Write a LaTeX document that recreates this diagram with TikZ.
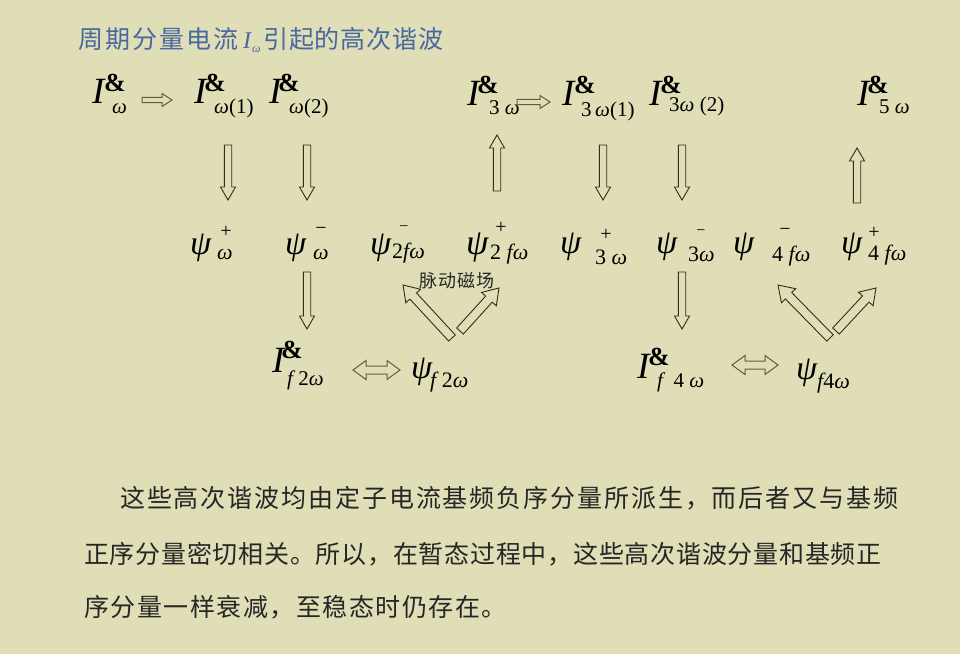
\documentclass[tikz,border=0pt]{standalone}
\usepackage{fontspec}
\setmainfont{Liberation Serif}
\newfontfamily\cjk{Noto Sans CJK SC}
\usetikzlibrary{calc}
\definecolor{bg}{RGB}{224,222,182}
\definecolor{titleblue}{RGB}{72,104,160}
\definecolor{arrline}{RGB}{50,46,28}
\definecolor{arrline2}{RGB}{100,92,62}
\makeatletter
\newcommand\pitched[2]{\@tfor\pc:=#2\do{\makebox[#1][l]{\pc}}}
\makeatother
\tikzset{
  txt/.style={inner sep=0pt, anchor=base west, text=black},
  bigI/.style={txt, font=\fontsize{37}{37}\selectfont\itshape},
  ampsty/.style={txt, font=\fontsize{26}{26}\selectfont\bfseries},
  substy/.style={txt, font=\fontsize{21}{21}\selectfont},
  msub/.style={txt, font=\fontsize{22}{22}\selectfont},
  psisty/.style={txt, font=\fontsize{34}{34}\selectfont\itshape},
  supsty/.style={inner sep=0pt, anchor=center, font=\fontsize{20}{20}\selectfont},
  blockarr/.style={draw=arrline, fill=bg, line width=0.9pt, line join=miter},
  blockarrb/.style={draw=arrline2, fill=bg, line width=1pt, line join=miter},
  cntext/.style={inner sep=0pt, anchor=base west, font=\fontsize{25}{25}\selectfont\cjk, text=black!85},
}
% single block arrow from #1 to #2: shaft half width #3, head half width #4, head length #5, style #6
\newcommand\blockarrow[6]{%
  \path let \p1=(#1), \p2=(#2) in \pgfextra{%
    \pgfmathsetmacro\baang{atan2(\y2-\y1,\x2-\x1)}%
    \pgfmathsetmacro\balen{veclen(\x2-\x1,\y2-\y1)}%
    \global\let\baang\baang \global\let\balen\balen};
  \begin{scope}[shift={(#1)},rotate=\baang]
    \draw[#6] (0,-#3) -- ({\balen-#5},-#3) -- ({\balen-#5},-#4) -- (\balen,0)
      -- ({\balen-#5},#4) -- ({\balen-#5},#3) -- (0,#3) -- cycle;
  \end{scope}}
% double block arrow between #1 and #2
\newcommand\dblarrow[6]{%
  \path let \p1=(#1), \p2=(#2) in \pgfextra{%
    \pgfmathsetmacro\baang{atan2(\y2-\y1,\x2-\x1)}%
    \pgfmathsetmacro\balen{veclen(\x2-\x1,\y2-\y1)}%
    \global\let\baang\baang \global\let\balen\balen};
  \begin{scope}[shift={(#1)},rotate=\baang]
    \draw[#6] (0,0) -- (#5,-#4) -- (#5,-#3) -- ({\balen-#5},-#3) -- ({\balen-#5},-#4)
      -- (\balen,0) -- ({\balen-#5},#4) -- ({\balen-#5},#3) -- (#5,#3) -- (#5,#4) -- cycle;
  \end{scope}}
% I with & mark: name, x, baseline, amp dx, amp dy, sub dx, sub dy, sub text
\newcommand\Iamp[8]{%
  \node[bigI] (#1) at (#2,#3) {I};
  \node[ampsty] (#1a) at (#2+#4,#3+#5) {\&};
  \node[substy] (#1s) at (#2+#6,#3+#7) {#8};}
% psi: name, x, baseline, sup cx, sup cy, sup, sub x, sub base, sub text
\newcommand\PsiNode[9]{%
  \node[psisty] (#1) at (#2,#3) {ψ};
  \node[supsty] (#1p) at (#4,#5) {#6};
  \node[msub] (#1s) at (#7,#8) {#9};}
\begin{document}
\begin{tikzpicture}[x=1pt,y=-1pt]
\fill[bg] (0,0) rectangle (960,654);
\useasboundingbox (0,0) rectangle (960,654);

% title
\node[cntext, text=titleblue] (t1) at (78,48) {\pitched{27pt}{周期分量电流}};
\node[txt, text=titleblue, font=\fontsize{24}{24}\selectfont\itshape] (t2) at (243,48) {I};
\node[txt, text=titleblue, font=\fontsize{12}{12}\selectfont\itshape] (t3) at (252,52) {ω};
\node[cntext, text=titleblue] (t4) at (263,48) {\pitched{25.8pt}{引起的高次谐波}};

% top row
\Iamp{i1}{92}{103}{12}{-12}{20}{10}{\itshape ω}
\Iamp{i2}{194}{103}{10}{-12}{20}{10}{{\itshape ω}(1)}
\Iamp{i3}{269}{103}{9}{-12}{20}{10}{{\itshape ω}(2)}
\Iamp{i4}{467}{105}{10}{-12}{22}{9}{3 {\itshape ω}}
\Iamp{i5}{562}{105}{12}{-12}{19}{11}{3\,{\itshape ω}(1)}
\Iamp{i6}{649}{105}{11}{-12}{20}{6}{3{\itshape ω} (2)}
\Iamp{i7}{857}{105}{10}{-12}{22}{8}{5 {\itshape ω}}

% middle row
\PsiNode{p1}{190}{254}{226}{232}{+}{217}{259}{\itshape ω}
\PsiNode{p2}{285}{254}{321}{231}{−}{313}{259}{\itshape ω}
\PsiNode{p3}{370}{254}{404}{229}{\fontsize{16}{16}\selectfont −}{392}{258}{2{\itshape fω}}
\node[psisty, font=\fontsize{36}{36}\selectfont\itshape] (p4) at (466,254) {ψ};
\node[supsty] (p4p) at (501,228) {+};
\node[msub] (p4s) at (490,259) {2 {\itshape fω}};
\PsiNode{p5}{560}{253}{606}{235}{+}{595}{264}{3 {\itshape ω}}
\PsiNode{p6}{656}{253}{701}{233}{\fontsize{16}{16}\selectfont −}{688}{261}{3{\itshape ω}}
\PsiNode{p7}{733}{253}{785}{232}{−}{772}{261}{4 {\itshape fω}}
\PsiNode{p8}{841}{253}{874}{233}{+}{868}{260}{4 {\itshape fω}}

\node[cntext, font=\fontsize{18}{18}\selectfont\cjk] (lbl) at (419,287) {\pitched{19pt}{脉动磁场}};

% bottom row
\Iamp{i8}{272}{372}{9}{-14}{15}{13}{{\itshape f} 2{\itshape ω}}
\node[psisty] (p9) at (411,378) {ψ};
\node[msub] (p9s) at (430,387) {{\itshape f} 2{\itshape ω}};
\Iamp{i9}{637}{378}{11}{-13}{20}{9}{{\itshape f} \ 4 {\itshape ω}}
\node[psisty] (p10) at (796,379) {ψ};
\node[msub] (p10s) at (817,388) {{\itshape f}4{\itshape ω}};

% arrow end points
\coordinate (h1a) at (142,100); \coordinate (h1b) at (172,100);
\coordinate (h2a) at (517,102); \coordinate (h2b) at (550,102);
\coordinate (v1a) at (228,145); \coordinate (v1b) at (228,200);
\coordinate (v2a) at (307,145); \coordinate (v2b) at (307,200);
\coordinate (v3a) at (497,191); \coordinate (v3b) at (497,135);
\coordinate (v4a) at (603,145); \coordinate (v4b) at (603,200);
\coordinate (v5a) at (682,145); \coordinate (v5b) at (682,200);
\coordinate (v6a) at (857,203); \coordinate (v6b) at (857,148);
\coordinate (v7a) at (307,272); \coordinate (v7b) at (307,329);
\coordinate (v8a) at (682,272); \coordinate (v8b) at (682,329);
\coordinate (d1a) at (452,338); \coordinate (d1b) at (403,285);
\coordinate (d2a) at (460,331); \coordinate (d2b) at (499,288);
\coordinate (d3a) at (830,338); \coordinate (d3b) at (778,285);
\coordinate (d4a) at (836,331); \coordinate (d4b) at (876,288);
\coordinate (e1a) at (353,370); \coordinate (e1b) at (400,370);
\coordinate (e2a) at (732,365); \coordinate (e2b) at (778,365);

\blockarrow{h1a}{h1b}{2.7}{6.5}{10}{blockarrb}
\blockarrow{h2a}{h2b}{2.7}{6.5}{10}{blockarrb}
\blockarrow{v1a}{v1b}{3.7}{7.5}{13}{blockarr}
\blockarrow{v2a}{v2b}{3.7}{7.5}{13}{blockarr}
\blockarrow{v3a}{v3b}{3.7}{7.5}{13}{blockarr}
\blockarrow{v4a}{v4b}{3.7}{7.5}{13}{blockarr}
\blockarrow{v5a}{v5b}{3.7}{7.5}{13}{blockarr}
\blockarrow{v6a}{v6b}{3.7}{7.5}{13}{blockarr}
\blockarrow{v7a}{v7b}{3.7}{7.5}{13}{blockarr}
\blockarrow{v8a}{v8b}{3.7}{7.5}{13}{blockarr}
\blockarrow{d1a}{d1b}{4.5}{10}{15}{blockarr}
\blockarrow{d2a}{d2b}{4.5}{10}{15}{blockarr}
\blockarrow{d3a}{d3b}{4.5}{10}{15}{blockarr}
\blockarrow{d4a}{d4b}{4.5}{10}{15}{blockarr}
\dblarrow{e1a}{e1b}{4}{9.5}{13}{blockarrb}
\dblarrow{e2a}{e2b}{4}{9.5}{13}{blockarrb}

% paragraph
\node[cntext] (l1) at (120,507) {\pitched{26.9pt}{这些高次谐波均由定子电流基频负序分量所派生，而后者又与基频}};
\node[cntext] (l2) at (84,563) {\pitched{25.75pt}{正序分量密切相关。所以，在暂态过程中，这些高次谐波分量和基频正}};
\node[cntext] (l3) at (84,616) {\pitched{26.5pt}{序分量一样衰减，至稳态时仍存在。}};
\end{tikzpicture}
\end{document}
